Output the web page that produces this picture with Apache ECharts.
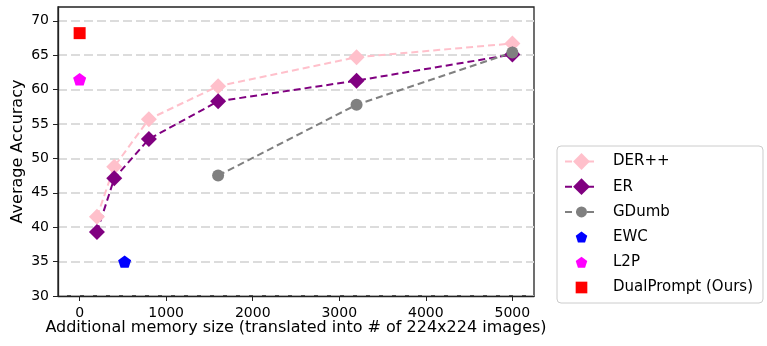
<!DOCTYPE html>
<html>
<head>
<meta charset="utf-8">
<script src="https://cdn.jsdelivr.net/npm/echarts@6/dist/echarts.min.js"></script>
<style>html,body{margin:0;padding:0;background:#fff}#c{width:767px;height:346px}</style>
</head>
<body>
<div id="c"></div>
<script>
const memX = [200, 400, 800, 1600, 3200, 5000];
const derpp = [41.5, 48.8, 55.7, 60.5, 64.7, 66.7];
const er = [39.3, 47.1, 52.8, 58.3, 61.3, 65.1];
const gdumbX = [1600, 3200, 5000];
const gdumb = [47.5, 57.8, 65.4];
const ewc = [[520, 35.0]];
const l2p = [[0, 61.5]];
const dualPrompt = [[0, 68.2]];
const xTicks = [0, 1000, 2000, 3000, 4000, 5000];
const yTicks = [30, 35, 40, 45, 50, 55, 60, 65, 70];

const pent = 'path://M0,-1 L0.951,-0.309 L0.588,0.809 L-0.588,0.809 L-0.951,-0.309 Z';
// circle with transparent padding so the legend icon is smaller than the plotted marker box
const padCircle = 'path://M-1,0 A1,1 0 1,1 1,0 A1,1 0 1,1 -1,0 Z M-1.53,-1.53 L-1.53,-1.53 M1.53,1.53 L1.53,1.53';
// legend-only icons padded with zero-length segments so they render smaller
const pentLeg = 'path://M0,-1 L0.951,-0.309 L0.588,0.809 L-0.588,0.809 L-0.951,-0.309 Z M-1.5,-1.83 L-1.5,-1.83 M1.5,1.64 L1.5,1.64';
const rectLeg = 'path://M0,0 L1,0 L1,1 L0,1 Z M-0.4,-0.4 L-0.4,-0.4 M1.4,1.4 L1.4,1.4';
const font = 'DejaVu Sans';
const zip = (xs, ys) => xs.map((x, i) => [x, ys[i]]);
const lineSeries = (name, data, color, symbol, size) => ({
  name, type: 'line', data, symbol, symbolSize: size,
  itemStyle: { color, opacity: 1 }, lineStyle: { color, width: 2, type: [7, 4] },
  emphasis: { disabled: true }, animation: false, z: 3
});
const scatterSeries = (name, data, color, symbol, size) => ({
  name, type: 'scatter', data, symbol, symbolSize: size, symbolKeepAspect: true,
  itemStyle: { color, opacity: 1 }, emphasis: { disabled: true }, animation: false, z: 4
});
const axisCol = '#222';

const chart = echarts.init(document.getElementById('c'));
chart.setOption({
  backgroundColor: '#fff',
  textStyle: { fontFamily: font },
  grid: { left: 58, right: 233, top: 7, bottom: 50, containLabel: false, outerBoundsMode: 'none',
    show: true, borderColor: axisCol, borderWidth: 1.3, backgroundColor: 'transparent' },
  xAxis: {
    type: 'value', min: -250, max: 5250,
    name: 'Additional memory size (translated into # of 224x224 images)',
    nameLocation: 'middle', nameGap: 24, nameMoveOverlap: false,
    nameTextStyle: { fontSize: 16, color: '#000', fontFamily: font },
    axisLine: { show: true, onZero: false, lineStyle: { color: axisCol, width: 1.3 } },
    axisTick: { show: true, customValues: xTicks, length: 5, lineStyle: { color: axisCol } },
    axisLabel: { customValues: xTicks, fontSize: 14, color: '#000', fontFamily: font, margin: 10, formatter: v => String(v) },
    splitLine: { show: false }
  },
  yAxis: {
    type: 'value', min: 30, max: 72,
    name: 'Average Accuracy',
    nameLocation: 'middle', nameGap: 32, nameMoveOverlap: false,
    nameTextStyle: { fontSize: 16, color: '#000', fontFamily: font },
    axisLine: { show: true, onZero: false, lineStyle: { color: axisCol, width: 1.3 } },
    axisTick: { show: true, customValues: yTicks, length: 5, lineStyle: { color: axisCol } },
    axisLabel: { customValues: yTicks, fontSize: 14, color: '#000', fontFamily: font, margin: 9 },
    splitLine: { show: true, lineStyle: { color: '#dcdcdc', width: 2, type: [9, 4] } }
  },
  legend: {
    left: 557, top: 146, orient: 'vertical',
    itemWidth: 33, itemHeight: 21, itemGap: 4.2,
    padding: [5, 10, 5, 7],
    borderColor: '#ccc', borderWidth: 1, borderRadius: 4, backgroundColor: '#fff',
    formatter: n => '{t|' + n + '}',
    textStyle: { fontSize: 15, color: '#000', fontFamily: font,
      rich: { t: { fontSize: 15, height: 21, lineHeight: 21, color: '#000', fontFamily: font, padding: [0, 0, 0, 10] } } },
    data: [
      { name: 'DER++' },
      { name: 'ER' },
      { name: 'GDumb' },
      { name: 'EWC', icon: pentLeg },
      { name: 'L2P', icon: pentLeg },
      { name: 'DualPrompt (Ours)', icon: rectLeg }
    ]
  },
  series: [
    lineSeries('DER++', zip(memX, derpp), '#ffc0cb', 'diamond', 16),
    lineSeries('ER', zip(memX, er), '#800080', 'diamond', 16),
    lineSeries('GDumb', zip(gdumbX, gdumb), '#808080', padCircle, 18.4),
    scatterSeries('EWC', ewc, '#0000ff', pent, 13),
    scatterSeries('L2P', l2p, '#ff00ff', pent, 13),
    scatterSeries('DualPrompt (Ours)', dualPrompt, '#ff0000', 'rect', 12)
  ]
});
</script>
</body>
</html>
